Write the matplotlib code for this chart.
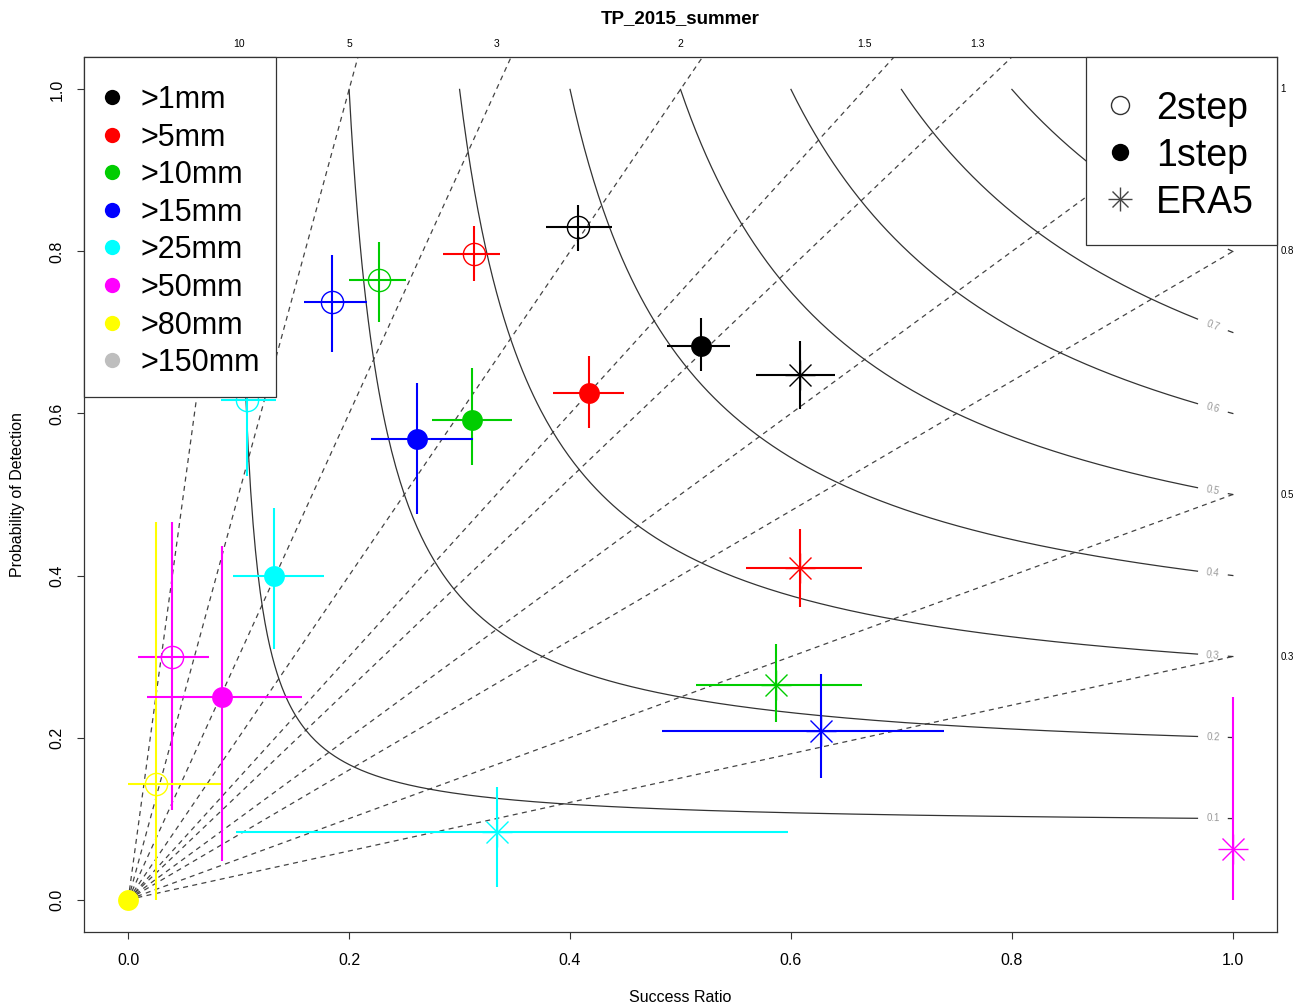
import numpy as np
import matplotlib
matplotlib.use('Agg')
import matplotlib.pyplot as plt
from matplotlib.patches import Rectangle

plt.rcParams['font.family'] = ['Liberation Sans', 'DejaVu Sans']

nan = np.nan

# ---------------- data ----------------
thresholds = ['>1mm', '>5mm', '>10mm', '>15mm', '>25mm', '>50mm', '>80mm', '>150mm']
colors = ['black', 'red', '#00cd00', 'blue', 'cyan', 'magenta', 'yellow', '#bebebe']

# 2step (open circles)
sr_2step     = [0.4075, 0.313, 0.2267, 0.1844, 0.1076, 0.0398, 0.0253, nan]
sr_2step_lo  = [0.378, 0.2854, 0.1995, 0.1594, 0.084, 0.009, 0.0, nan]
sr_2step_hi  = [0.438, 0.337, 0.2514, 0.2158, 0.134, 0.073, 0.084, nan]
pod_2step    = [0.830, 0.797, 0.7653, 0.737, 0.6165, 0.2996, 0.143, nan]
pod_2step_lo = [0.800, 0.763, 0.713, 0.676, 0.523, 0.111, 0.0, nan]
pod_2step_hi = [0.857, 0.832, 0.8117, 0.7953, 0.71, 0.466, 0.466, nan]

# 1step (filled circles)
sr_1step     = [0.519, 0.417, 0.311, 0.2613, 0.132, 0.085, 0.0, nan]
sr_1step_lo  = [0.488, 0.385, 0.2749, 0.2197, 0.095, 0.017, 0.0, nan]
sr_1step_hi  = [0.545, 0.449, 0.3478, 0.3126, 0.177, 0.157, 0.0, nan]
pod_1step    = [0.6835, 0.625, 0.592, 0.5688, 0.3995, 0.250, 0.0, nan]
pod_1step_lo = [0.652, 0.582, 0.5364, 0.4756, 0.309, 0.048, 0.0, nan]
pod_1step_hi = [0.718, 0.671, 0.6556, 0.6378, 0.483, 0.437, 0.0, nan]

# ERA5 (asterisks)
sr_era5      = [0.608, 0.608, 0.5865, 0.6275, 0.334, 1.0, nan, nan]
sr_era5_lo   = [0.568, 0.559, 0.514, 0.4835, 0.098, 1.0, nan, nan]
sr_era5_hi   = [0.6395, 0.6646, 0.664, 0.7387, 0.597, 1.0, nan, nan]
pod_era5     = [0.648, 0.409, 0.2651, 0.2075, 0.0838, 0.0625, nan, nan]
pod_era5_lo  = [0.605, 0.361, 0.2186, 0.150, 0.016, 0.0, nan, nan]
pod_era5_hi  = [0.689, 0.458, 0.3157, 0.2783, 0.139, 0.25, nan, nan]

bias_values = [0.3, 0.5, 0.8, 1, 1.3, 1.5, 2, 3, 5, 10]
bias_top_labels = ['10', '5', '3', '2', '1.5', '1.3']
bias_top_values = [10, 5, 3, 2, 1.5, 1.3]
bias_right_labels = ['1', '0.8', '0.5', '0.3']
bias_right_values = [1, 0.8, 0.5, 0.3]
csi_values = [0.1, 0.2, 0.3, 0.4, 0.5, 0.6, 0.7, 0.8, 0.9]
axis_ticks = [0.0, 0.2, 0.4, 0.6, 0.8, 1.0]
series_names = ['2step', '1step', 'ERA5']

# ---------------- figure ----------------
W, H = 1295, 1006
fig = plt.figure(figsize=(W / 100, H / 100), dpi=100)
ax = fig.add_axes([84 / W, 1 - 932 / H, 1193 / W, 875 / H])
ax.set_xlim(-0.04, 1.04)
ax.set_ylim(-0.04, 1.04)

# bias lines
for b in bias_values:
    ax.plot([0, 1], [0, b], ls=(0, (4, 3.5)), color='#444444', lw=0.9, zorder=1)

# CSI curves
for c in csi_values:
    sr = np.linspace(c, 0.968, 400)
    pod = 1.0 / (1.0 / c - 1.0 / sr + 1.0)
    ax.plot(sr, pod, color='#333333', lw=0.9, zorder=1)
    sr2 = np.linspace(0.996, 1.0, 5)
    pod2 = 1.0 / (1.0 / c - 1.0 / sr2 + 1.0)
    ax.plot(sr2, pod2, color='#333333', lw=0.9, zorder=1)
    xl = 0.982
    yl = 1.0 / (1.0 / c - 1.0 / xl + 1.0)
    slope = -(yl ** 2) / (xl ** 2) * (811 / 1106)
    ax.text(xl, yl, f'{c:.1f}', fontsize=7, color='#999999', ha='center', va='center',
            rotation=np.degrees(np.arctan(slope)), zorder=2)

# data with error bars
def draw(sr, lo_x, hi_x, pod, lo_y, hi_y, kind):
    for i, col in enumerate(colors):
        if np.isnan(sr[i]):
            continue
        ax.plot([lo_x[i], hi_x[i]], [pod[i], pod[i]], color=col, lw=1.5, zorder=3,
                solid_capstyle='butt')
        ax.plot([sr[i], sr[i]], [lo_y[i], hi_y[i]], color=col, lw=1.5, zorder=3,
                solid_capstyle='butt')
        if kind == '2step':
            ax.plot(sr[i], pod[i], 'o', mfc='none', mec=col, ms=16, mew=1.0, zorder=4)
        elif kind == '1step':
            ax.plot(sr[i], pod[i], 'o', mfc=col, mec=col, ms=15, mew=0, zorder=4)
        else:
            ax.plot(sr[i], pod[i], 'x', color=col, ms=16, mew=1.0, zorder=4)
            ax.plot(sr[i], pod[i], '+', color=col, ms=22, mew=1.0, zorder=4)

draw(sr_2step, sr_2step_lo, sr_2step_hi, pod_2step, pod_2step_lo, pod_2step_hi, '2step')
draw(sr_era5, sr_era5_lo, sr_era5_hi, pod_era5, pod_era5_lo, pod_era5_hi, 'ERA5')
draw(sr_1step, sr_1step_lo, sr_1step_hi, pod_1step, pod_1step_lo, pod_1step_hi, '1step')

# axes style
ax.set_xticks(axis_ticks)
ax.set_xticklabels([f'{t:.1f}' for t in axis_ticks])
ax.set_yticks(axis_ticks)
ax.set_yticklabels([f'{t:.1f}' for t in axis_ticks], rotation=90, va='center')
ax.tick_params(direction='out', length=5, width=0.8, color='#333333', labelsize=11.5)
ax.tick_params(axis='x', pad=10)
ax.tick_params(axis='y', pad=9)
for s in ax.spines.values():
    s.set_color('#333333')
    s.set_linewidth(0.9)

# bias labels on top and right
for v, lab in zip(bias_top_values, bias_top_labels):
    ax.annotate(lab, xy=(1.0 / v, 1.04), xycoords='data', xytext=(0, 9.5),
                textcoords='offset points', ha='center', va='center', fontsize=7.5,
                annotation_clip=False)
for v, lab in zip(bias_right_values, bias_right_labels):
    ax.annotate(lab, xy=(1.04, v), xycoords='data', xytext=(2.5, 0),
                textcoords='offset points', ha='left', va='center', fontsize=7,
                annotation_clip=False)

# titles
fig.text(680 / W, 1 - 19 / H, 'TP_2015_summer', ha='center', va='center',
         fontsize=13.5, fontweight='bold')
fig.text(680 / W, 1 - 997 / H, 'Success Ratio', ha='center', va='center', fontsize=11.5)
fig.text(18 / W, 1 - 495 / H, 'Probability of Detection', ha='center', va='center',
         fontsize=11.5, rotation=90)

# ---------------- legends (overlay in pixel coords) ----------------
ov = fig.add_axes([0, 0, 1, 1], zorder=10)
ov.set_xlim(0, W)
ov.set_ylim(H, 0)
ov.axis('off')

ov.add_patch(Rectangle((84, 57), 192, 340, facecolor='white', edgecolor='#333333', lw=0.9))
row_y = 97
for lab, col in zip(thresholds, colors):
    ov.plot(112, row_y, 'o', color=col, ms=11, mew=0)
    ov.text(140, row_y + 11, lab, fontsize=22, ha='left', va='baseline')
    row_y += 37.6

ov.add_patch(Rectangle((1086, 57), 191, 188, facecolor='white', edgecolor='#333333', lw=0.9))
ry = 105
for name in series_names:
    if name == '2step':
        ov.plot(1120, ry, 'o', mfc='none', mec='#333333', ms=13, mew=1.0)
    elif name == '1step':
        ov.plot(1120, ry, 'o', color='black', ms=12.5, mew=0)
    else:
        ov.plot(1120, ry, 'x', color='#444444', ms=12, mew=1.0)
        ov.plot(1120, ry, '+', color='#444444', ms=17, mew=1.0)
    ov.text(1156, ry + 13.5, name, fontsize=27, ha='left', va='baseline')
    ry += 47

fig.savefig('out.png', dpi=100)
